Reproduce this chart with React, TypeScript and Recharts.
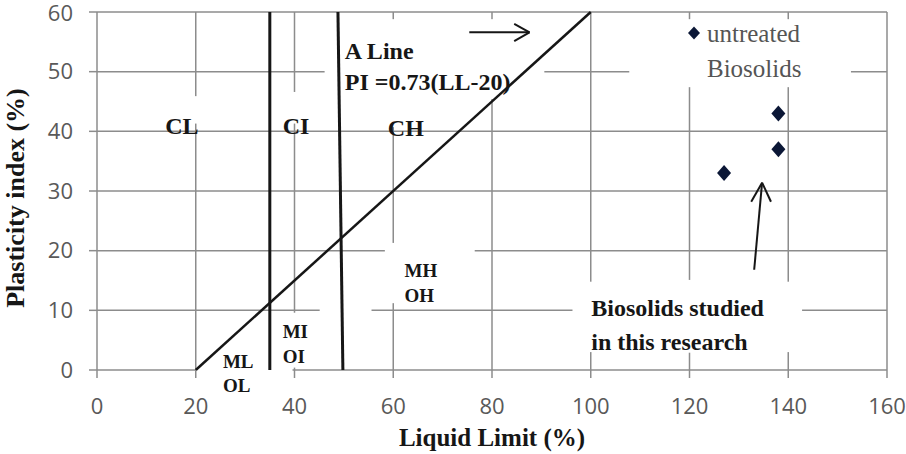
import {
  ScatterChart,
  Scatter,
  XAxis,
  YAxis,
  CartesianGrid,
  ReferenceLine,
  ReferenceDot,
  Legend,
} from 'recharts'

const X_TICKS = [0, 20, 40, 60, 80, 100, 120, 140, 160]
const Y_TICKS = [0, 10, 20, 30, 40, 50, 60]

// untreated biosolids measured in this research
const SERIES_NAME = 'untreated Biosolids'
const LIQUID_LIMIT = [127, 138, 138]
const PLASTICITY_INDEX = [33, 43, 37]

// A line, PI = 0.73(LL-20), as drawn on the chart
const A_LINE_LL = [20, 100]
const A_LINE_PI = [0, 60]

// LL boundaries between low / intermediate / high plasticity (hand drawn, the 50 one leans a bit)
const BOUNDARY_TOP_LL = [35, 48.8]
const BOUNDARY_BOTTOM_LL = [35, 49.8]

const points = LIQUID_LIMIT.map((ll, i) => ({ x: ll, y: PLASTICITY_INDEX[i] }))

const GRID = '#8c8c8c'
const INK = '#161616'
const SERIF = '"Liberation Serif", "Times New Roman", serif'

// zone names and notes, anchored at (LL, PI) = left edge / baseline
const NOTES = [
  { text: 'CL', x: 13.8, y: 39.5, size: 24 },
  { text: 'CI', x: 37.6, y: 39.5, size: 24 },
  { text: 'CH', x: 58.9, y: 39.2, size: 24 },
  { text: 'A Line', x: 50.2, y: 52.1, size: 24 },
  { text: 'PI =0.73(LL-20)', x: 50.2, y: 46.9, size: 24 },
  { text: 'MH', x: 62.3, y: 15.6, size: 19 },
  { text: 'OH', x: 62.3, y: 11.4, size: 19 },
  { text: 'MI', x: 37.6, y: 5.4, size: 19 },
  { text: 'OI', x: 37.6, y: 1.2, size: 19 },
  { text: 'ML', x: 25.5, y: 0.3, size: 19 },
  { text: 'OL', x: 25.5, y: -3.7, size: 19 },
  { text: 'Biosolids studied', x: 100.1, y: 9.1, size: 24 },
  { text: 'in this research', x: 100.1, y: 3.4, size: 24 },
]

// the text boxes in the original hide parts of the gridlines
const GRID_BREAKS = [
  [20, 41.3, 20, 45.9],
  [40, 41.3, 40, 46.6],
  [40, 0.4, 40, 9.6],
  [60, 40.7, 60, 58.8],
  [60, 11.2, 60, 21.3],
  [80, 45.4, 80, 58.8],
  [100, 3.0, 100, 14.8],
  [120, 47.4, 120, 58.8],
  [120, 2.9, 120, 15.1],
  [140, 47.4, 140, 58.8],
  [140, 3.0, 140, 14.8],
  [46.1, 50, 90.6, 50],
  [107.8, 50, 152.7, 50],
  [58.3, 20, 76.5, 20],
  [45.1, 10, 55.6, 10],
  [96.3, 10, 142.8, 10],
  [20.2, 0, 39.6, 0],
]

// arrows: shaft then the two head strokes
const ARROWS = [
  [75.4, 56.6, 87.6, 56.6],
  [84.5, 58.0, 87.6, 56.6],
  [84.5, 55.1, 87.6, 56.6],
  [133.1, 16.8, 134.7, 31.4],
  [132.5, 28.2, 134.7, 31.4],
  [136.5, 28.2, 134.7, 31.4],
]

const Diamond = (props: any) => {
  const { cx, cy, fill } = props
  return <polygon points={`${cx},${cy - 8} ${cx + 7},${cy} ${cx},${cy + 8} ${cx - 7},${cy}`} fill={fill} />
}

const noteShape = (text: string, size: number) => (props: any) => (
  <text
    x={props.cx}
    y={props.cy}
    fill={INK}
    fontFamily={SERIF}
    fontWeight={700}
    fontSize={size}
  >
    {text}
  </text>
)

const seg = (s: number[]) => [
  { x: s[0], y: s[1] },
  { x: s[2], y: s[3] },
]

const LegendBox = ({ payload }: any) => {
  const name: string = payload?.[0]?.value ?? SERIES_NAME
  const [first, ...rest] = name.split(' ')
  return (
    <div style={{ display: 'flex', alignItems: 'flex-start' }}>
      <svg width={16} height={34} style={{ flex: 'none' }}>
        <polygon points="8,10.5 14,17 8,23.5 2,17" fill="#0b1736" />
      </svg>
      <div
        style={{
          marginLeft: 5,
          fontFamily: SERIF,
          fontSize: 25,
          lineHeight: '35px',
          color: '#555',
          whiteSpace: 'nowrap',
        }}
      >
        {first}
        <br />
        {rest.join(' ')}
      </div>
    </div>
  )
}

export default function App() {
  return (
    <div style={{ position: 'absolute', left: 0, top: 0, width: 906, height: 454, background: '#fff' }}>
      <ScatterChart width={906} height={454} margin={{ top: 12, right: 19, bottom: 0, left: 0 }}>
        <CartesianGrid stroke={GRID} strokeWidth={1.5} />
        <XAxis
          type="number"
          dataKey="x"
          domain={[0, 160]}
          ticks={X_TICKS}
          height={84}
          axisLine={false}
          tickSize={8}
          tickMargin={20}
          tickLine={{ stroke: GRID, strokeWidth: 1.5 }}
          tick={{ fill: '#595959', fontSize: 22, fontFamily: 'Open Sans' }}
          label={{
            value: 'Liquid Limit (%)',
            position: 'insideBottom',
            offset: 8,
            fill: INK,
            fontSize: 25,
            fontWeight: 700,
            fontFamily: SERIF,
          }}
        />
        <YAxis
          type="number"
          dataKey="y"
          domain={[0, 60]}
          ticks={Y_TICKS}
          width={97}
          axisLine={false}
          tickSize={8}
          tickMargin={16}
          tickLine={{ stroke: GRID, strokeWidth: 1.5 }}
          tick={{ fill: '#595959', fontSize: 22, fontFamily: 'Open Sans' }}
          label={{
            position: 'insideLeft',
            content: ({ viewBox }: any) => {
              const cx = viewBox.x + 15
              const cy = viewBox.y + viewBox.height / 2 + 7
              return (
                <text
                  x={cx}
                  y={cy}
                  transform={`rotate(-90 ${cx} ${cy})`}
                  textAnchor="middle"
                  dominantBaseline="central"
                  fill={INK}
                  fontFamily={SERIF}
                  fontWeight={700}
                  fontSize={26}
                >
                  Plasticity index (%)
                </text>
              )
            },
          }}
        />

        {GRID_BREAKS.map((b, i) => (
          <ReferenceLine key={`gap${i}`} segment={seg(b)} stroke="#fff" strokeWidth={6} />
        ))}

        <ReferenceLine
          segment={[
            { x: A_LINE_LL[0], y: A_LINE_PI[0] },
            { x: A_LINE_LL[1], y: A_LINE_PI[1] },
          ]}
          stroke={INK}
          strokeWidth={2.5}
        />
        {BOUNDARY_TOP_LL.map((ll, i) => (
          <ReferenceLine
            key={`ll${i}`}
            segment={[
              { x: ll, y: 60 },
              { x: BOUNDARY_BOTTOM_LL[i], y: 0 },
            ]}
            stroke={INK}
            strokeWidth={3}
          />
        ))}
        {ARROWS.map((a, i) => (
          <ReferenceLine key={`ar${i}`} segment={seg(a)} stroke={INK} strokeWidth={2} />
        ))}

        {NOTES.map((n) => (
          <ReferenceDot
            key={n.text}
            x={n.x}
            y={n.y}
            r={1}
            ifOverflow="visible"
            shape={noteShape(n.text, n.size)}
          />
        ))}

        <Legend
          layout="vertical"
          align="center"
          verticalAlign="middle"
          wrapperStyle={{ top: 16, left: 686, width: 150 }}
          content={LegendBox}
        />

        <Scatter
          name={SERIES_NAME}
          data={points}
          fill="#0b1736"
          shape={Diamond}
          isAnimationActive={false}
        />
      </ScatterChart>
    </div>
  )
}
